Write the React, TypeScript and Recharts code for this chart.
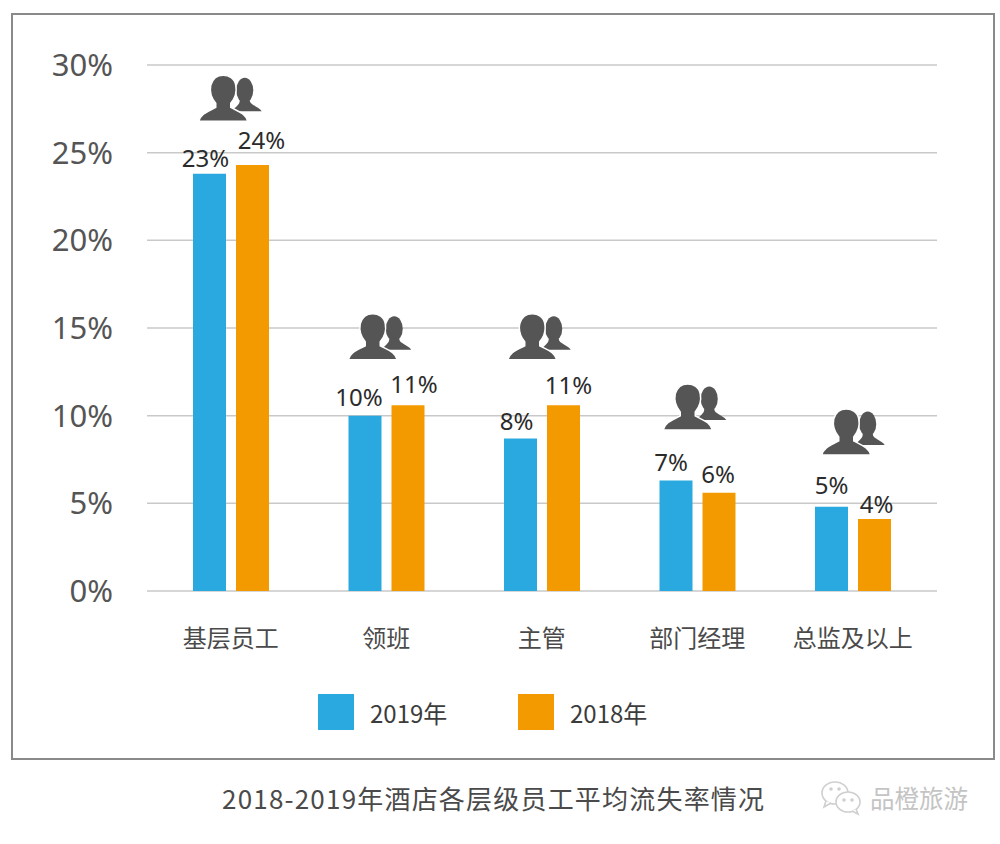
import { BarChart, Bar, XAxis, YAxis, CartesianGrid, Legend, LabelList, ReferenceDot } from 'recharts';

const CJK = '"Noto Sans CJK SC", "Noto Sans", sans-serif';
const LATIN = '"Noto Sans", "Open Sans", sans-serif';

const categories = ['基层员工', '领班', '主管', '部门经理', '总监及以上'];
const values2019 = [23.8, 10.0, 8.7, 6.3, 4.8];
const values2018 = [24.3, 10.6, 10.6, 5.6, 4.1];
const labels2019 = ['23%', '10%', '8%', '7%', '5%'];
const labels2018 = ['24%', '11%', '11%', '6%', '4%'];
const iconLevels = [28.1, 14.5, 14.5, 10.5, 9.07];
const yTicks = [0, 5, 10, 15, 20, 25, 30];

const BLUE = '#29a9e0';
const ORANGE = '#f39a00';

// the printed labels and icons sit a little off the bar centres in the original
const nudge2019 = [[-4, 16], [-6, 19], [-4, 18], [-5, 19], [0, 22]];
const nudge2018 = [[9, 25], [6, 22], [5, 21], [-1, 19], [2, 16]];
const iconNudge = [0, -6, -2, -2, 1];

const rows = categories.map((name, i) => ({
  name,
  y2019: values2019[i],
  y2018: values2018[i],
  label2019: labels2019[i],
  label2018: labels2018[i],
}));

const barLabel = (nudges: number[][]) => (props: any) => {
  const { x, y, width, index, value } = props;
  const [dx, lift] = nudges[index];
  return (
    <text
      x={x + width / 2 + dx}
      y={y - lift}
      textAnchor="middle"
      dominantBaseline="central"
      fontSize={24}
      fontFamily={LATIN}
      fill="#2b2b2b"
    >
      {value}
    </text>
  );
};

// two people, the smaller one behind
const PeopleIcon = ({ cx, cy, dx }: any) => (
  <g transform={`translate(${cx - 32 + dx},${cy - 23})`} fill="#555555">
    <ellipse cx="46" cy="15" rx="8.5" ry="12.5" />
    <path d="M33 36 C37 31 41 30 41 25 H51 C51 30 60 31 63 36 Z" />
    <path d="M0 46 C2 38 10 36 17 32 L17 28 C12 22 11 15 12 10 C14 3 19 0 24.5 0 C30 0 36 3 37 10 C38 15 37 22 32 28 L32 32 C39 36 47 38 49 46 Z" stroke="#ffffff" strokeWidth="1.5" />
  </g>
);

const LegendRow = ({ payload }: any) => (
  <div style={{ display: 'flex' }}>
    {(payload || []).map((item: any) => (
      <div key={item.value} style={{ display: 'flex', alignItems: 'center', width: 200 }}>
        <span style={{ width: 36, height: 36, background: item.color, marginRight: 16 }} />
        <span style={{ fontFamily: CJK, fontSize: 24, color: '#3c3c3c' }}>{item.value}</span>
      </div>
    ))}
  </div>
);

const WeChatMark = () => (
  <svg width="44" height="36" viewBox="0 0 44 36" style={{ position: 'absolute', left: 820, top: 780 }} fill="#ffffff" stroke="#cfcfcf" strokeWidth="1.6">
    <ellipse cx="15" cy="13" rx="13" ry="11" />
    <path d="M6 21 L4 27 L11 23" />
    <ellipse cx="28" cy="22" rx="12" ry="10" />
    <path d="M36 29 L38 34 L32 31" />
    <circle cx="11" cy="9" r="1" fill="#cfcfcf" />
    <circle cx="19" cy="9" r="1" fill="#cfcfcf" />
    <circle cx="24" cy="20" r="1" fill="#cfcfcf" />
    <circle cx="32" cy="20" r="1" fill="#cfcfcf" />
  </svg>
);

export default function App() {
  return (
    <div style={{ position: 'absolute', left: 0, top: 0, width: 1000, height: 844, background: '#fff' }}>
      <div style={{ position: 'absolute', left: 11, top: 13, width: 980, height: 743, border: '2px solid #8a8a8a', boxSizing: 'content-box' }} />
      <div style={{ position: 'absolute' }}>
        <BarChart
          width={1000}
          height={844}
          data={rows}
          margin={{ top: 65, right: 63, bottom: 0, left: 0 }}
          barSize={33}
          barGap={10}
        >
          <CartesianGrid vertical={false} stroke="#c9c9c9" strokeWidth={1.5} />
          <XAxis
            dataKey="name"
            height={253}
            padding={{ left: 6, right: 6.5 }}
            axisLine={false}
            tickLine={false}
            tickMargin={33}
            interval={0}
            tick={{ fontSize: 24, fontFamily: CJK, fill: '#4a4a4a' }}
          />
          <YAxis
            width={147}
            domain={[0, 30]}
            ticks={yTicks}
            tickFormatter={(v: number) => `${v}%`}
            axisLine={false}
            tickLine={false}
            tickMargin={28}
            tick={{ fontSize: 31, fontFamily: LATIN, fill: '#555555' }}
          />
          <Legend
            layout="horizontal"
            verticalAlign="middle"
            align="center"
            itemSorter={null}
            content={<LegendRow />}
            wrapperStyle={{ left: 318, top: 694, width: 420, height: 36 }}
          />
          <Bar dataKey="y2019" name="2019年" fill={BLUE} isAnimationActive={false}>
            <LabelList dataKey="label2019" content={barLabel(nudge2019)} />
          </Bar>
          <Bar dataKey="y2018" name="2018年" fill={ORANGE} isAnimationActive={false}>
            <LabelList dataKey="label2018" content={barLabel(nudge2018)} />
          </Bar>
          {categories.map((name, i) => (
            <ReferenceDot key={name} x={name} y={iconLevels[i]} r={0} shape={<PeopleIcon dx={iconNudge[i]} />} />
          ))}
        </BarChart>
      </div>
      <div style={{ position: 'absolute', left: 222, top: 780, fontFamily: CJK, fontSize: 26, letterSpacing: 1.2, lineHeight: '36px', color: '#4a4a4a', whiteSpace: 'nowrap' }}>
        2018-2019年酒店各层级员工平均流失率情况
      </div>
      <WeChatMark />
      <div style={{ position: 'absolute', left: 870, top: 780, fontFamily: CJK, fontSize: 24.5, lineHeight: '36px', color: '#c4c4c4', whiteSpace: 'nowrap' }}>
        品橙旅游
      </div>
    </div>
  );
}
